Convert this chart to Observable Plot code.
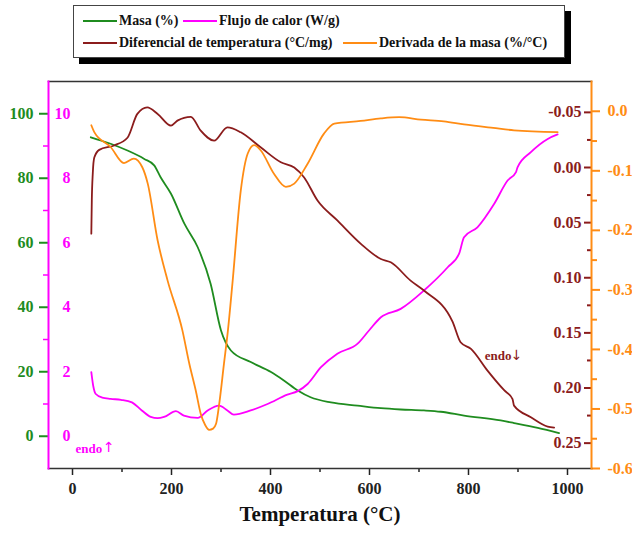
<!DOCTYPE html>
<html><head><meta charset="utf-8">
<script src="https://cdn.jsdelivr.net/npm/d3@7"></script>
<script src="https://cdn.jsdelivr.net/npm/@observablehq/plot@0.6"></script>
<style>
body{margin:0;background:#fff;font-family:"Liberation Serif","Times New Roman",serif;}
#wrap{position:relative;width:632px;height:534px;}
#legend{position:absolute;left:73px;top:5px;width:490px;height:51px;border:1px solid #444;box-shadow:6px 6px 0 #000;background:#fff;font-weight:bold;font-size:14px;color:#111;z-index:2;}
.item{position:absolute;display:flex;align-items:center;white-space:nowrap;height:18px;}
.sw{display:inline-block;width:34px;height:0;border-top:2px solid;margin-right:2px;}
</style></head>
<body>
<div id="wrap">
<div id="legend"></div>
</div>
<script>
// ---- data ----
const masaT = [37, 77, 111, 145, 165, 178, 199, 226, 253, 279, 300, 320, 360, 401, 427, 455, 481, 522, 576, 623, 663, 710, 744, 791, 865, 892, 940, 983];
const masaV = [92.7, 90.7, 88.6, 86.0, 84.0, 80.3, 75.2, 65.9, 58.6, 47.3, 32.8, 26.6, 23.0, 19.9, 17.3, 14.2, 12.1, 10.5, 9.5, 8.7, 8.3, 8.0, 7.6, 6.4, 4.9, 4.1, 2.6, 1.0];

const flujoT = [38, 42, 47, 60, 77, 98, 120, 140, 158, 172, 185, 209, 225, 253, 273, 296, 313, 326, 360, 394, 434, 455, 475, 502, 535, 576, 599, 623, 663, 710, 758, 781, 791, 818, 852, 879, 896, 899, 926, 960, 980];
const flujoV = [1.99, 1.55, 1.31, 1.2, 1.16, 1.13, 1.05, 0.8, 0.6, 0.56, 0.6, 0.78, 0.64, 0.57, 0.80, 0.95, 0.80, 0.67, 0.80, 1.0, 1.29, 1.40, 1.62, 2.14, 2.56, 2.87, 3.28, 3.69, 3.95, 4.52, 5.24, 5.66, 6.17, 6.48, 7.21, 7.93, 8.19, 8.34, 8.81, 9.22, 9.36];

const difT = [38, 39, 41, 44, 54, 84, 111, 131, 151, 172, 199, 212, 239, 259, 286, 313, 340, 380, 421, 448, 468, 495, 535, 582, 623, 643, 683, 710, 768, 784, 805, 838, 872, 889, 892, 926, 960, 973];
const difV = [0.060, 0.030, 0.005, -0.009, -0.016, -0.020, -0.027, -0.0486, -0.0545, -0.0486, -0.038, -0.0425, -0.046, -0.0334, -0.0243, -0.0364, -0.0319, -0.0183, -0.0047, 0.0, 0.009, 0.030, 0.048, 0.069, 0.083, 0.086, 0.1026, 0.1116, 0.140, 0.1585, 0.1645, 0.184, 0.202, 0.210, 0.216, 0.2265, 0.235, 0.236];

const derT = [38, 44, 77, 104, 124, 141, 152, 172, 192, 222, 236, 249, 259, 268, 276, 284, 290, 296, 306, 314, 323, 340, 354, 367, 380, 407, 431, 448, 475, 508, 529, 582, 623, 660, 704, 750, 791, 850, 892, 980];
const derV = [-0.0235, -0.035, -0.060, -0.087, -0.0795, -0.094, -0.1215, -0.217, -0.284, -0.368, -0.424, -0.469, -0.508, -0.527, -0.535, -0.533, -0.525, -0.494, -0.424, -0.368, -0.290, -0.133, -0.071, -0.057, -0.0655, -0.105, -0.127, -0.1215, -0.088, -0.0375, -0.0207, -0.0163, -0.012, -0.010, -0.014, -0.017, -0.022, -0.028, -0.032, -0.035];

const xTicks = [0, 200, 400, 600, 800, 1000];
const xMinor = [100, 300, 500, 700, 900];
const masaTicks = [0, 20, 40, 60, 80, 100];
const flujoTicks = [0, 2, 4, 6, 8, 10];
const flujoMinor = [1, 3, 5, 7, 9];
const difTicks = [-0.05, 0.00, 0.05, 0.10, 0.15, 0.20, 0.25];
const difMinor = [-0.025, 0.025, 0.075, 0.125, 0.175, 0.225];
const derTicks = [0.0, -0.1, -0.2, -0.3, -0.4, -0.5, -0.6];
const derMinor = [-0.05, -0.15, -0.25, -0.35, -0.45, -0.55];

const seriesNames = ["Masa (%)", "Flujo de calor (W/g)", "Diferencial de temperatura (°C/mg)", "Derivada de la masa (%/°C)"];
const xLabel = "Temperatura (°C)";

// ---- styling ----
const GREEN = "#1f8c1f", MAGENTA = "#ff00ff", DARKRED = "#8b1c1c", ORANGE = "#ff8c14";
const FONT = '"Liberation Serif","Times New Roman",serif';
const ARROWFONT = '"DejaVu Sans",sans-serif';

// scale domains for the four y axes (primary scale = masa)
const masaDom = [-10, 110];
const flujoToG = v => v * 10;
const difDom = [-0.078, 0.273];   // reversed axis (top = -0.078)
const derDom = [-0.6, 0.05];
const difToG = d => masaDom[1] - (d - difDom[0]) / (difDom[1] - difDom[0]) * (masaDom[1] - masaDom[0]);
const derToG = o => masaDom[0] + (o - derDom[0]) / (derDom[1] - derDom[0]) * (masaDom[1] - masaDom[0]);

const masa = masaT.map((t, i) => ({t, v: masaV[i]}));
const flujo = flujoT.map((t, i) => ({t, v: flujoToG(flujoV[i])}));
const dif = difT.map((t, i) => ({t, v: difToG(difV[i])}));
const der = derT.map((t, i) => ({t, v: derToG(derV[i])}));

const difLabel = new Map(difTicks.map(v => [difToG(v), v.toFixed(2)]));
const derLabel = new Map(derTicks.map(v => [derToG(v), v.toFixed(1)]));

const plot = Plot.plot({
  width: 632, height: 534,
  marginLeft: 48, marginRight: 41, marginTop: 81, marginBottom: 66,
  x: {domain: [-48.5, 1048.5]},
  y: {domain: masaDom},
  style: {fontFamily: FONT, fontWeight: "bold", background: "white"},
  marks: [
    Plot.axisX(xTicks, {tickSize: 7, tickPadding: 7, fontSize: 16, label: null, color: "#222", strokeWidth: 1.5, tickFormat: d => String(d)}),
    Plot.axisX(xMinor, {tickSize: 4, text: null, label: null, color: "#222", strokeWidth: 1.5}),
    // masa axis (green, left)
    Plot.axisY(masaTicks, {anchor: "left", tickSize: 9, tickPadding: 6, fontSize: 16, label: null, color: GREEN, strokeWidth: 2}),
    // flujo axis (magenta, labels inside)
    Plot.axisY(flujoMinor.map(flujoToG), {anchor: "left", tickSize: 5, text: null, label: null, color: MAGENTA, strokeWidth: 1.5}),
    Plot.axisY(flujoTicks.map(flujoToG), {anchor: "left", tickSize: 0, tickPadding: 0, dx: 22, fontSize: 16, label: null, color: MAGENTA, tickFormat: g => String(Math.round(g / 10))}),
    // diferencial axis (dark red, right, inward ticks)
    Plot.axisY(difTicks.map(difToG), {anchor: "right", tickSize: 8, dx: -8, text: null, label: null, color: DARKRED, strokeWidth: 2}),
    Plot.axisY(difMinor.map(difToG), {anchor: "right", tickSize: 5, dx: -5, text: null, label: null, color: DARKRED, strokeWidth: 2}),
    Plot.axisY(difTicks.map(difToG), {anchor: "right", tickSize: 0, tickPadding: 0, dx: -10, textAnchor: "end", fontSize: 16, label: null, color: DARKRED, tickFormat: g => difLabel.get(g)}),
    // derivada axis (orange, right)
    Plot.axisY(derTicks.map(derToG), {anchor: "right", tickSize: 8, tickPadding: 8, fontSize: 16, label: null, color: ORANGE, strokeWidth: 2, tickFormat: g => derLabel.get(g)}),
    Plot.axisY(derMinor.map(derToG), {anchor: "right", tickSize: 5, text: null, label: null, color: ORANGE, strokeWidth: 2}),
    // frame
    Plot.frame({anchor: "top", stroke: "#333", strokeWidth: 1.5}),
    Plot.frame({anchor: "bottom", stroke: "#333", strokeWidth: 1.5}),
    Plot.frame({anchor: "left", stroke: MAGENTA, strokeWidth: 2}),
    Plot.frame({anchor: "right", stroke: ORANGE, strokeWidth: 2}),
    // curves
    Plot.line(masa, {x: "t", y: "v", stroke: GREEN, strokeWidth: 1.8, curve: "monotone-x"}),
    Plot.line(flujo, {x: "t", y: "v", stroke: MAGENTA, strokeWidth: 1.8, curve: "monotone-x"}),
    Plot.line(dif, {x: "t", y: "v", stroke: DARKRED, strokeWidth: 1.8, curve: "monotone-x"}),
    Plot.line(der, {x: "t", y: "v", stroke: ORANGE, strokeWidth: 1.8, curve: "monotone-x"}),
    // annotations
    Plot.text([xLabel], {frameAnchor: "bottom", dy: 52, fontSize: 21, fill: "#111"}),
    Plot.text(["endo"], {frameAnchor: "bottom-left", dx: 27, dy: -16, textAnchor: "start", fontSize: 13, fill: MAGENTA}),
    Plot.text(["↑"], {frameAnchor: "bottom-left", dx: 54.5, dy: -17, textAnchor: "start", fontSize: 14, fontWeight: "normal", fontFamily: ARROWFONT, fill: MAGENTA}),
    Plot.text(["endo"], {frameAnchor: "top-right", dx: -80, dy: 269, textAnchor: "end", fontSize: 13, fill: DARKRED}),
    Plot.text(["↓"], {frameAnchor: "top-right", dx: -69, dy: 269, textAnchor: "end", fontSize: 14, fontWeight: "normal", fontFamily: ARROWFONT, fill: DARKRED})
  ]
});
document.getElementById("wrap").appendChild(plot);

// legend
const legendItems = [
  {name: seriesNames[0], color: GREEN, left: 9, top: 6},
  {name: seriesNames[1], color: MAGENTA, left: 109, top: 6},
  {name: seriesNames[2], color: DARKRED, left: 9, top: 28},
  {name: seriesNames[3], color: ORANGE, left: 269, top: 28}
];
const lg = document.getElementById("legend");
for (const it of legendItems) {
  const d = document.createElement("div");
  d.className = "item";
  d.style.left = it.left + "px";
  d.style.top = it.top + "px";
  const sw = document.createElement("span");
  sw.className = "sw";
  sw.style.borderColor = it.color;
  d.appendChild(sw);
  d.appendChild(document.createTextNode(it.name));
  lg.appendChild(d);
}
</script>
</body></html>
